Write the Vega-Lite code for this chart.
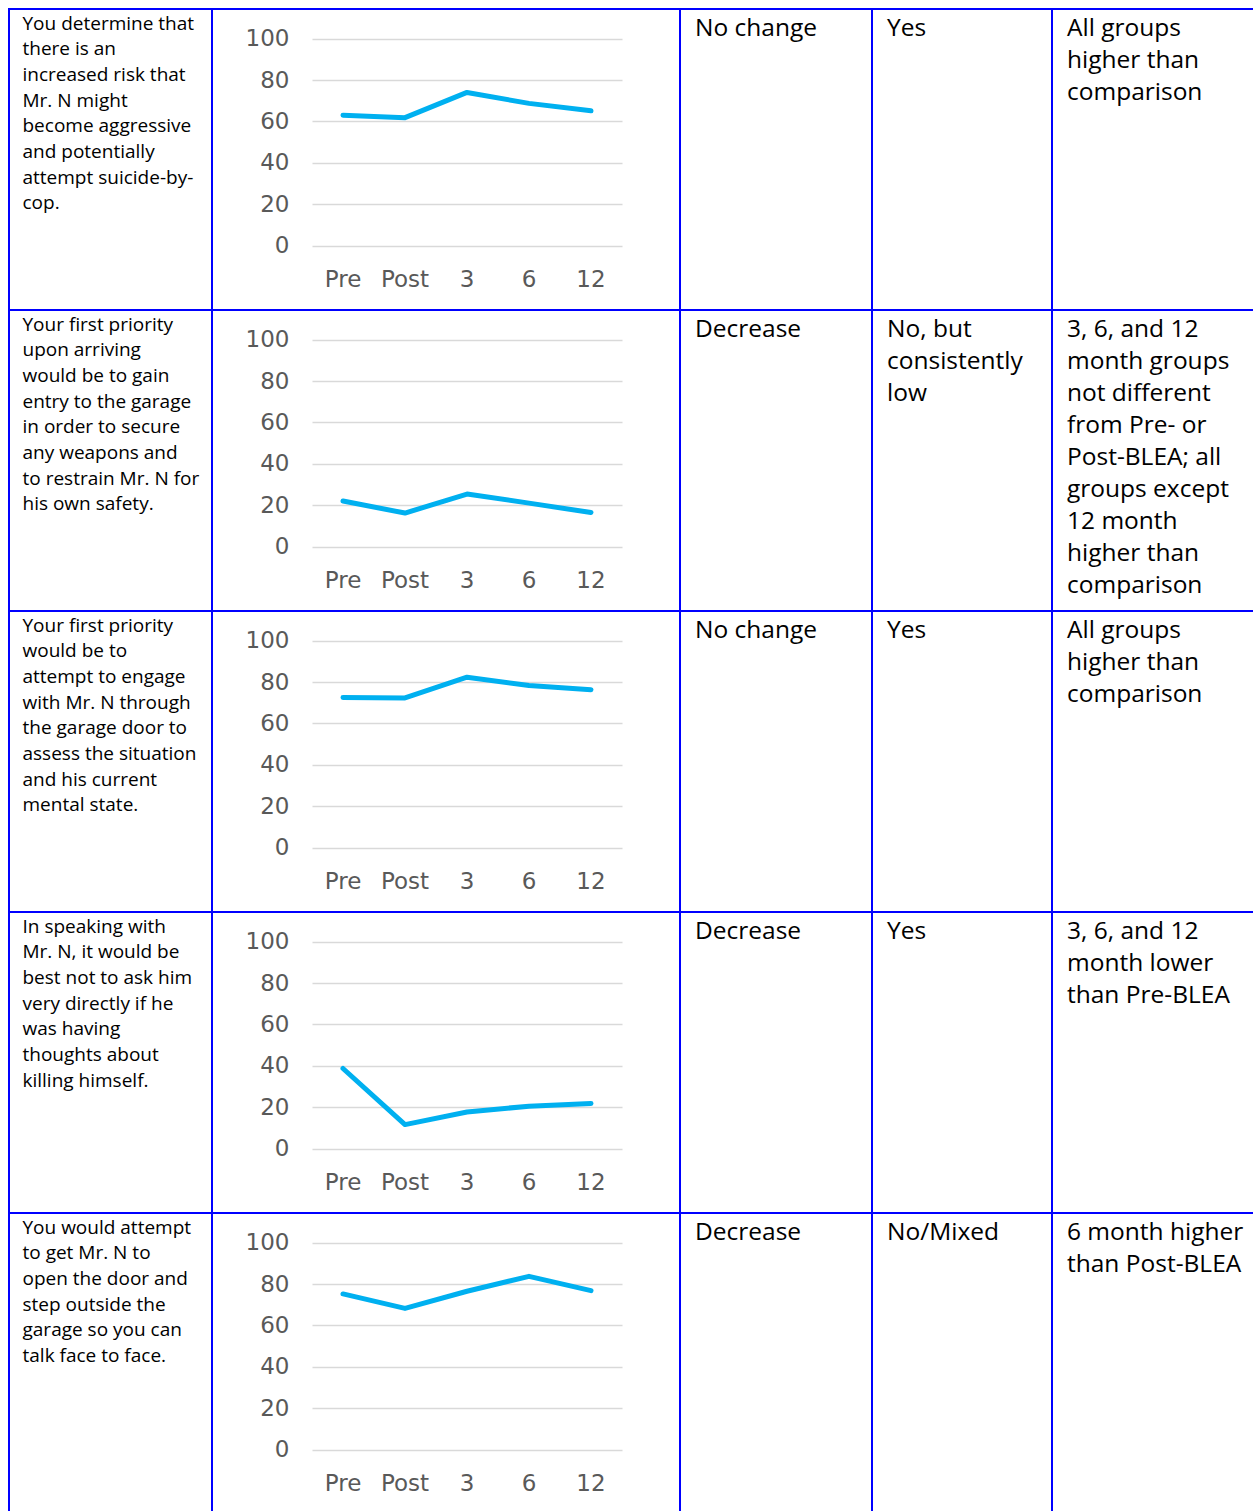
{
  "$schema": "https://vega.github.io/schema/vega-lite/v6.json",
  "padding": {"left": 8, "top": 8, "right": 0, "bottom": 0},
  "background": "white",
  "columns": 5,
  "spacing": 0,
  "bounds": "flush",
  "config": {
    "view": {"stroke": "#0000FF", "strokeWidth": 2},
    "axisX": {"domain": false, "ticks": false, "tickSize": 0, "grid": false, "labelAngle": 0, "labelPadding": 0, "offset": -24, "labelBaseline": "alphabetic", "labelFont": "DejaVu Sans", "labelFontSize": 23, "labelColor": "#595959", "labelOverlap": false},
    "axisY": {"domain": false, "ticks": false, "tickSize": 0, "grid": true, "gridColor": "#D9D9D9", "gridWidth": 1.5, "labelPadding": -77, "labelFont": "DejaVu Sans", "labelFontSize": 23, "labelColor": "#595959", "labelOverlap": false}
  },
  "datasets": {
    "rows": [
      {"q": 1,
       "statement": ["You determine that", "there is an", "increased risk that", "Mr. N might", "become aggressive", "and potentially", "attempt suicide-by-", "cop."],
       "change": ["No change"], "sig": ["Yes"],
       "compare": ["All groups", "higher than", "comparison"]},
      {"q": 2,
       "statement": ["Your first priority", "upon arriving", "would be to gain", "entry to the garage", "in order to secure", "any weapons and", "to restrain Mr. N for", "his own safety."],
       "change": ["Decrease"], "sig": ["No, but", "consistently", "low"],
       "compare": ["3, 6, and 12", "month groups", "not different", "from Pre- or", "Post-BLEA; all", "groups except", "12 month", "higher than", "comparison"]},
      {"q": 3,
       "statement": ["Your first priority", "would be to", "attempt to engage", "with Mr. N through", "the garage door to", "assess the situation", "and his current", "mental state."],
       "change": ["No change"], "sig": ["Yes"],
       "compare": ["All groups", "higher than", "comparison"]},
      {"q": 4,
       "statement": ["In speaking with", "Mr. N, it would be", "best not to ask him", "very directly if he", "was having", "thoughts about", "killing himself."],
       "change": ["Decrease"], "sig": ["Yes"],
       "compare": ["3, 6, and 12", "month lower", "than Pre-BLEA"]},
      {"q": 5,
       "statement": ["You would attempt", "to get Mr. N to", "open the door and", "step outside the", "garage so you can", "talk face to face."],
       "change": ["Decrease"], "sig": ["No/Mixed"],
       "compare": ["6 month higher", "than Post-BLEA"]}
    ],
    "series": [
      {"q": 1, "time": "Pre", "value": 63},
      {"q": 1, "time": "Post", "value": 61.8},
      {"q": 1, "time": "3", "value": 74},
      {"q": 1, "time": "6", "value": 68.7},
      {"q": 1, "time": "12", "value": 65.1},
      {"q": 2, "time": "Pre", "value": 22},
      {"q": 2, "time": "Post", "value": 16.2},
      {"q": 2, "time": "3", "value": 25.4},
      {"q": 2, "time": "6", "value": 21},
      {"q": 2, "time": "12", "value": 16.5},
      {"q": 3, "time": "Pre", "value": 72.5},
      {"q": 3, "time": "Post", "value": 72.3},
      {"q": 3, "time": "3", "value": 82.3},
      {"q": 3, "time": "6", "value": 78.3},
      {"q": 3, "time": "12", "value": 76.3},
      {"q": 4, "time": "Pre", "value": 38.7},
      {"q": 4, "time": "Post", "value": 11.6},
      {"q": 4, "time": "3", "value": 17.7},
      {"q": 4, "time": "6", "value": 20.5},
      {"q": 4, "time": "12", "value": 21.8},
      {"q": 5, "time": "Pre", "value": 75.2},
      {"q": 5, "time": "Post", "value": 68.2},
      {"q": 5, "time": "3", "value": 76.5},
      {"q": 5, "time": "6", "value": 83.7},
      {"q": 5, "time": "12", "value": 76.8}
    ]
  },
  "concat": [
    {"data": {"name": "rows"}, "transform": [{"filter": "datum.q == 1"}], "width": 203, "height": 301,
     "mark": {"type": "text", "align": "left", "baseline": "alphabetic", "dx": 13.5, "dy": 20.5, "font": "Open Sans", "fontSize": 19, "lineHeight": 25.7, "color": "#000000"},
     "encoding": {"x": {"value": 0}, "y": {"value": 0}, "text": {"field": "statement"}}},
    {"data": {"name": "series"}, "transform": [{"filter": "datum.q == 1"}], "width": 468, "height": 301,
     "mark": {"type": "line", "color": "#00B0F0", "strokeWidth": 5, "strokeCap": "round", "strokeJoin": "round"},
     "encoding": {
       "x": {"field": "time", "type": "ordinal", "sort": ["Pre", "Post", "3", "6", "12"], "scale": {"type": "band", "range": [100, 410], "paddingInner": 0, "paddingOuter": 0}, "axis": {"title": null}},
       "y": {"field": "value", "type": "quantitative", "scale": {"domain": [0, 100], "range": [236.6, 29.6], "nice": false}, "axis": {"title": null, "values": [0, 20, 40, 60, 80, 100]}}}},
    {"data": {"name": "rows"}, "transform": [{"filter": "datum.q == 1"}], "width": 192, "height": 301,
     "mark": {"type": "text", "align": "left", "baseline": "alphabetic", "dx": 15, "dy": 26.5, "font": "Open Sans", "fontSize": 24.5, "lineHeight": 32, "color": "#000000"},
     "encoding": {"x": {"value": 0}, "y": {"value": 0}, "text": {"field": "change"}}},
    {"data": {"name": "rows"}, "transform": [{"filter": "datum.q == 1"}], "width": 180, "height": 301,
     "mark": {"type": "text", "align": "left", "baseline": "alphabetic", "dx": 15, "dy": 26.5, "font": "Open Sans", "fontSize": 24.5, "lineHeight": 32, "color": "#000000"},
     "encoding": {"x": {"value": 0}, "y": {"value": 0}, "text": {"field": "sig"}}},
    {"data": {"name": "rows"}, "transform": [{"filter": "datum.q == 1"}], "width": 204, "height": 301,
     "mark": {"type": "text", "align": "left", "baseline": "alphabetic", "dx": 15, "dy": 26.5, "font": "Open Sans", "fontSize": 24.5, "lineHeight": 32, "color": "#000000"},
     "encoding": {"x": {"value": 0}, "y": {"value": 0}, "text": {"field": "compare"}}},

    {"data": {"name": "rows"}, "transform": [{"filter": "datum.q == 2"}], "width": 203, "height": 301,
     "mark": {"type": "text", "align": "left", "baseline": "alphabetic", "dx": 13.5, "dy": 20.5, "font": "Open Sans", "fontSize": 19, "lineHeight": 25.7, "color": "#000000"},
     "encoding": {"x": {"value": 0}, "y": {"value": 0}, "text": {"field": "statement"}}},
    {"data": {"name": "series"}, "transform": [{"filter": "datum.q == 2"}], "width": 468, "height": 301,
     "mark": {"type": "line", "color": "#00B0F0", "strokeWidth": 5, "strokeCap": "round", "strokeJoin": "round"},
     "encoding": {
       "x": {"field": "time", "type": "ordinal", "sort": ["Pre", "Post", "3", "6", "12"], "scale": {"type": "band", "range": [100, 410], "paddingInner": 0, "paddingOuter": 0}, "axis": {"title": null}},
       "y": {"field": "value", "type": "quantitative", "scale": {"domain": [0, 100], "range": [236.6, 29.6], "nice": false}, "axis": {"title": null, "values": [0, 20, 40, 60, 80, 100]}}}},
    {"data": {"name": "rows"}, "transform": [{"filter": "datum.q == 2"}], "width": 192, "height": 301,
     "mark": {"type": "text", "align": "left", "baseline": "alphabetic", "dx": 15, "dy": 26.5, "font": "Open Sans", "fontSize": 24.5, "lineHeight": 32, "color": "#000000"},
     "encoding": {"x": {"value": 0}, "y": {"value": 0}, "text": {"field": "change"}}},
    {"data": {"name": "rows"}, "transform": [{"filter": "datum.q == 2"}], "width": 180, "height": 301,
     "mark": {"type": "text", "align": "left", "baseline": "alphabetic", "dx": 15, "dy": 26.5, "font": "Open Sans", "fontSize": 24.5, "lineHeight": 32, "color": "#000000"},
     "encoding": {"x": {"value": 0}, "y": {"value": 0}, "text": {"field": "sig"}}},
    {"data": {"name": "rows"}, "transform": [{"filter": "datum.q == 2"}], "width": 204, "height": 301,
     "mark": {"type": "text", "align": "left", "baseline": "alphabetic", "dx": 15, "dy": 26.5, "font": "Open Sans", "fontSize": 24.5, "lineHeight": 32, "color": "#000000"},
     "encoding": {"x": {"value": 0}, "y": {"value": 0}, "text": {"field": "compare"}}},

    {"data": {"name": "rows"}, "transform": [{"filter": "datum.q == 3"}], "width": 203, "height": 301,
     "mark": {"type": "text", "align": "left", "baseline": "alphabetic", "dx": 13.5, "dy": 20.5, "font": "Open Sans", "fontSize": 19, "lineHeight": 25.7, "color": "#000000"},
     "encoding": {"x": {"value": 0}, "y": {"value": 0}, "text": {"field": "statement"}}},
    {"data": {"name": "series"}, "transform": [{"filter": "datum.q == 3"}], "width": 468, "height": 301,
     "mark": {"type": "line", "color": "#00B0F0", "strokeWidth": 5, "strokeCap": "round", "strokeJoin": "round"},
     "encoding": {
       "x": {"field": "time", "type": "ordinal", "sort": ["Pre", "Post", "3", "6", "12"], "scale": {"type": "band", "range": [100, 410], "paddingInner": 0, "paddingOuter": 0}, "axis": {"title": null}},
       "y": {"field": "value", "type": "quantitative", "scale": {"domain": [0, 100], "range": [236.6, 29.6], "nice": false}, "axis": {"title": null, "values": [0, 20, 40, 60, 80, 100]}}}},
    {"data": {"name": "rows"}, "transform": [{"filter": "datum.q == 3"}], "width": 192, "height": 301,
     "mark": {"type": "text", "align": "left", "baseline": "alphabetic", "dx": 15, "dy": 26.5, "font": "Open Sans", "fontSize": 24.5, "lineHeight": 32, "color": "#000000"},
     "encoding": {"x": {"value": 0}, "y": {"value": 0}, "text": {"field": "change"}}},
    {"data": {"name": "rows"}, "transform": [{"filter": "datum.q == 3"}], "width": 180, "height": 301,
     "mark": {"type": "text", "align": "left", "baseline": "alphabetic", "dx": 15, "dy": 26.5, "font": "Open Sans", "fontSize": 24.5, "lineHeight": 32, "color": "#000000"},
     "encoding": {"x": {"value": 0}, "y": {"value": 0}, "text": {"field": "sig"}}},
    {"data": {"name": "rows"}, "transform": [{"filter": "datum.q == 3"}], "width": 204, "height": 301,
     "mark": {"type": "text", "align": "left", "baseline": "alphabetic", "dx": 15, "dy": 26.5, "font": "Open Sans", "fontSize": 24.5, "lineHeight": 32, "color": "#000000"},
     "encoding": {"x": {"value": 0}, "y": {"value": 0}, "text": {"field": "compare"}}},

    {"data": {"name": "rows"}, "transform": [{"filter": "datum.q == 4"}], "width": 203, "height": 301,
     "mark": {"type": "text", "align": "left", "baseline": "alphabetic", "dx": 13.5, "dy": 20.5, "font": "Open Sans", "fontSize": 19, "lineHeight": 25.7, "color": "#000000"},
     "encoding": {"x": {"value": 0}, "y": {"value": 0}, "text": {"field": "statement"}}},
    {"data": {"name": "series"}, "transform": [{"filter": "datum.q == 4"}], "width": 468, "height": 301,
     "mark": {"type": "line", "color": "#00B0F0", "strokeWidth": 5, "strokeCap": "round", "strokeJoin": "round"},
     "encoding": {
       "x": {"field": "time", "type": "ordinal", "sort": ["Pre", "Post", "3", "6", "12"], "scale": {"type": "band", "range": [100, 410], "paddingInner": 0, "paddingOuter": 0}, "axis": {"title": null}},
       "y": {"field": "value", "type": "quantitative", "scale": {"domain": [0, 100], "range": [236.6, 29.6], "nice": false}, "axis": {"title": null, "values": [0, 20, 40, 60, 80, 100]}}}},
    {"data": {"name": "rows"}, "transform": [{"filter": "datum.q == 4"}], "width": 192, "height": 301,
     "mark": {"type": "text", "align": "left", "baseline": "alphabetic", "dx": 15, "dy": 26.5, "font": "Open Sans", "fontSize": 24.5, "lineHeight": 32, "color": "#000000"},
     "encoding": {"x": {"value": 0}, "y": {"value": 0}, "text": {"field": "change"}}},
    {"data": {"name": "rows"}, "transform": [{"filter": "datum.q == 4"}], "width": 180, "height": 301,
     "mark": {"type": "text", "align": "left", "baseline": "alphabetic", "dx": 15, "dy": 26.5, "font": "Open Sans", "fontSize": 24.5, "lineHeight": 32, "color": "#000000"},
     "encoding": {"x": {"value": 0}, "y": {"value": 0}, "text": {"field": "sig"}}},
    {"data": {"name": "rows"}, "transform": [{"filter": "datum.q == 4"}], "width": 204, "height": 301,
     "mark": {"type": "text", "align": "left", "baseline": "alphabetic", "dx": 15, "dy": 26.5, "font": "Open Sans", "fontSize": 24.5, "lineHeight": 32, "color": "#000000"},
     "encoding": {"x": {"value": 0}, "y": {"value": 0}, "text": {"field": "compare"}}},

    {"data": {"name": "rows"}, "transform": [{"filter": "datum.q == 5"}], "width": 203, "height": 301,
     "mark": {"type": "text", "align": "left", "baseline": "alphabetic", "dx": 13.5, "dy": 20.5, "font": "Open Sans", "fontSize": 19, "lineHeight": 25.7, "color": "#000000"},
     "encoding": {"x": {"value": 0}, "y": {"value": 0}, "text": {"field": "statement"}}},
    {"data": {"name": "series"}, "transform": [{"filter": "datum.q == 5"}], "width": 468, "height": 301,
     "mark": {"type": "line", "color": "#00B0F0", "strokeWidth": 5, "strokeCap": "round", "strokeJoin": "round"},
     "encoding": {
       "x": {"field": "time", "type": "ordinal", "sort": ["Pre", "Post", "3", "6", "12"], "scale": {"type": "band", "range": [100, 410], "paddingInner": 0, "paddingOuter": 0}, "axis": {"title": null}},
       "y": {"field": "value", "type": "quantitative", "scale": {"domain": [0, 100], "range": [236.6, 29.6], "nice": false}, "axis": {"title": null, "values": [0, 20, 40, 60, 80, 100]}}}},
    {"data": {"name": "rows"}, "transform": [{"filter": "datum.q == 5"}], "width": 192, "height": 301,
     "mark": {"type": "text", "align": "left", "baseline": "alphabetic", "dx": 15, "dy": 26.5, "font": "Open Sans", "fontSize": 24.5, "lineHeight": 32, "color": "#000000"},
     "encoding": {"x": {"value": 0}, "y": {"value": 0}, "text": {"field": "change"}}},
    {"data": {"name": "rows"}, "transform": [{"filter": "datum.q == 5"}], "width": 180, "height": 301,
     "mark": {"type": "text", "align": "left", "baseline": "alphabetic", "dx": 15, "dy": 26.5, "font": "Open Sans", "fontSize": 24.5, "lineHeight": 32, "color": "#000000"},
     "encoding": {"x": {"value": 0}, "y": {"value": 0}, "text": {"field": "sig"}}},
    {"data": {"name": "rows"}, "transform": [{"filter": "datum.q == 5"}], "width": 204, "height": 301,
     "mark": {"type": "text", "align": "left", "baseline": "alphabetic", "dx": 15, "dy": 26.5, "font": "Open Sans", "fontSize": 24.5, "lineHeight": 32, "color": "#000000"},
     "encoding": {"x": {"value": 0}, "y": {"value": 0}, "text": {"field": "compare"}}}
  ]
}
